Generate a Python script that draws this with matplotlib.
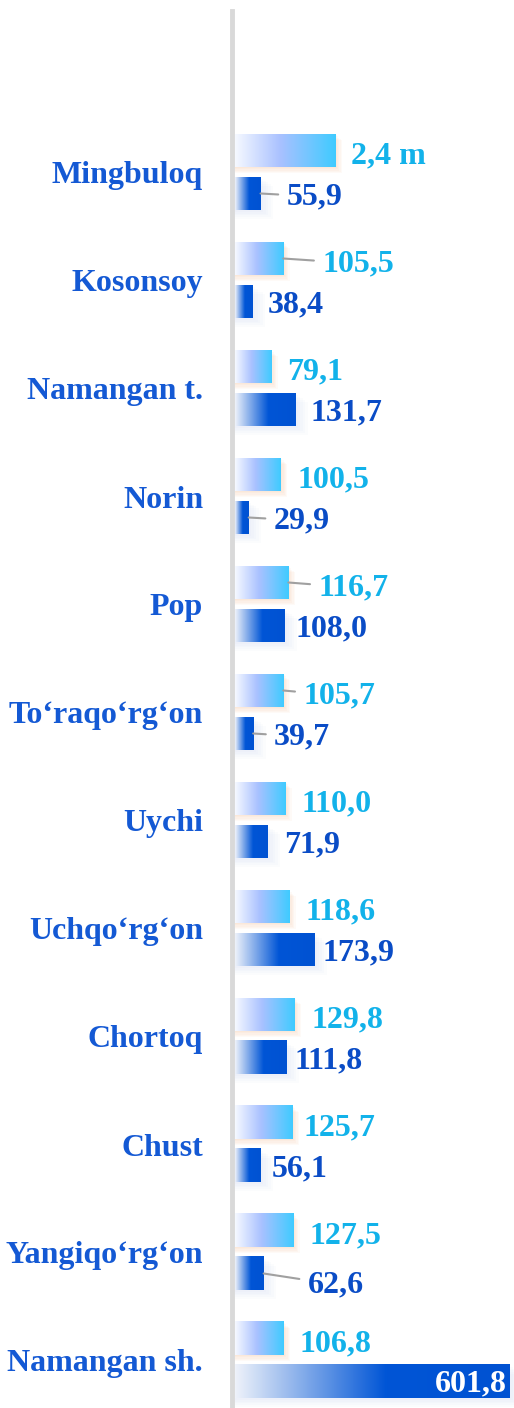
import matplotlib
matplotlib.use('Agg')
import matplotlib.pyplot as plt
import numpy as np
from matplotlib.colors import LinearSegmentedColormap
from matplotlib.patches import Rectangle

# Districts of Namangan region
districts = ['Mingbuloq', 'Kosonsoy', 'Namangan t.', 'Norin', 'Pop', 'To\u2018raqo\u2018rg\u2018on',
             'Uychi', 'Uchqo\u2018rg\u2018on', 'Chortoq', 'Chust', 'Yangiqo\u2018rg\u2018on', 'Namangan sh.']
# growth rate (%), Mingbuloq is "2,4 m" (2.4 times) drawn with a longer bar
growth = [220, 105.5, 79.1, 100.5, 116.7, 105.7, 110.0, 118.6, 129.8, 125.7, 127.5, 106.8]
growth_labels = ['2,4 m', '105,5', '79,1', '100,5', '116,7', '105,7', '110,0', '118,6',
                 '129,8', '125,7', '127,5', '106,8']
volume = [55.9, 38.4, 131.7, 29.9, 108.0, 39.7, 71.9, 173.9, 111.8, 56.1, 62.6, 601.8]
volume_labels = ['55,9', '38,4', '131,7', '29,9', '108,0', '39,7', '71,9', '173,9',
                 '111,8', '56,1', '62,6', '601,8']

# label gaps in pixels from bar end (bigger ones get a leader line)
light_gap = [15, 39, 16, 17, 30, 20, 16, 16, 17, 11, 16, 16]
dark_gap = [26, 15, 15, 25, 11, 21, 16, 8, 8, 11, 44, 0]
dark_dy = [0, 0, 0, 0, 0, 0, 0, 0, 0, 0, -8, 0]

CAT_COLOR = '#1459d4'
LIGHT_TXT = '#12b2ea'
DARK_TXT = '#0a4cc6'

light_cmap = LinearSegmentedColormap.from_list('light', [(0, '#f6f9ff'), (0.45, '#a9c1ff'), (1, '#3fcbff')])
dark_cmap = LinearSegmentedColormap.from_list('dark', [(0, '#eef2fa'), (0.55, '#0055d6'), (1, '#0052d2')])

W, H = 514, 1408
fig = plt.figure(figsize=(W / 100, H / 100), dpi=100)
ax_left, ax_top = 235, 11
ax = fig.add_axes([ax_left / W, 0, (W - ax_left) / W, (H - ax_top) / H])

px_x = 601.8 / 275.0      # data units per pixel (x)
px_y = 1 / 108.0          # data units per pixel (y)
ymin = -(172 - ax_top) * px_y
ymax = 11 + (H - 1360) * px_y
ax.set_xlim(0, (W - ax_left) * px_x)
ax.set_ylim(ymax, ymin)
ax.axis('off')

bh = 33 * px_y
off = 21.5 * px_y
grad = np.linspace(0, 1, 256).reshape(1, -1)
FS = 23

for i in range(len(districts)):
    yl = i - off
    yd = i + off
    # soft shadows
    for k in range(1, 6):
        ax.add_patch(Rectangle((0, yl - bh / 2 + k * 1.2 * px_y), growth[i] + k * 1.3 * px_x, bh,
                               color='#f6a26a', alpha=0.05, lw=0, zorder=1))
        ax.add_patch(Rectangle((0, yd - bh / 2 + k * 1.8 * px_y), volume[i] + k * 2.5 * px_x, bh,
                               color='#a9bde4', alpha=0.04, lw=0, zorder=1))
    ax.imshow(grad, cmap=light_cmap, aspect='auto', zorder=2,
              extent=(0, growth[i], yl + bh / 2, yl - bh / 2))
    ax.imshow(grad, cmap=dark_cmap, aspect='auto', zorder=2,
              extent=(0, volume[i], yd + bh / 2, yd - bh / 2))

    lead = dict(arrowstyle='-', color='#a0a0a0', lw=1.5, shrinkA=4, shrinkB=0)
    ax.annotate(growth_labels[i], xy=(growth[i], yl), xytext=(light_gap[i], -5),
                textcoords='offset pixels', ha='left', va='center',
                fontsize=FS, fontweight='bold', family='Liberation Serif', color=LIGHT_TXT,
                arrowprops=lead if light_gap[i] > 19 else None, zorder=3)
    if i == len(districts) - 1:
        ax.annotate(volume_labels[i], xy=(volume[i], yd), xytext=(-3, -2),
                    textcoords='offset pixels', ha='right', va='center',
                    fontsize=FS, fontweight='bold', family='Liberation Serif', color='white', zorder=3)
    else:
        ax.annotate(volume_labels[i], xy=(volume[i], yd), xytext=(dark_gap[i], dark_dy[i] - 3),
                    textcoords='offset pixels', ha='left', va='center',
                    fontsize=FS, fontweight='bold', family='Liberation Serif', color=DARK_TXT,
                    arrowprops=lead if dark_gap[i] > 19 else None, zorder=3)

    ax.annotate(districts[i], xy=(0, i), xytext=(-32, -4), textcoords='offset pixels',
                ha='right', va='center', fontsize=FS, fontweight='bold',
                family='Liberation Serif', color=CAT_COLOR, annotation_clip=False)

# vertical axis line
fig.add_artist(plt.Line2D([232 / W, 232 / W], [0, 1 - ax_top / H], color='#d9d9d9', lw=3.5))

fig.savefig('out.png', dpi=100)
